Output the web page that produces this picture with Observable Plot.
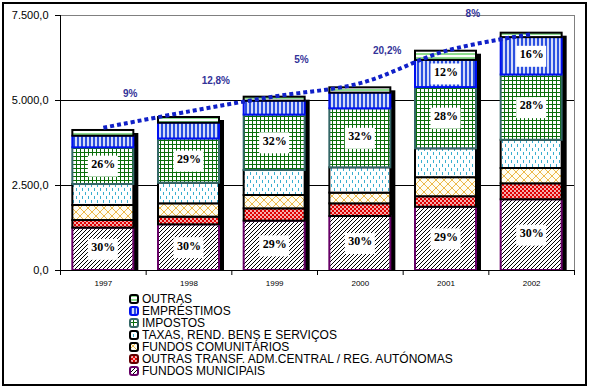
<!DOCTYPE html>
<html><head><meta charset="utf-8">
<script src="https://cdn.jsdelivr.net/npm/d3@7"></script>
<script src="https://cdn.jsdelivr.net/npm/@observablehq/plot@0.6"></script>
<style>
html,body{margin:0;padding:0;background:#fff;}
#wrap{position:relative;width:590px;height:388px;overflow:hidden;background:#fff;}
#frame{position:absolute;left:2px;top:2px;width:585px;height:384px;border:2px solid #000;box-sizing:border-box;pointer-events:none;}
#chart{position:absolute;left:0;top:0;}
.row{position:absolute;left:129px;height:12px;white-space:nowrap;}
.row svg{position:absolute;left:0;top:1px;}
.row span{position:absolute;left:13px;top:0;font-family:"Liberation Sans",Arial,sans-serif;font-size:12.5px;line-height:12px;transform:scaleX(0.96);transform-origin:0 0;color:#000;}
</style>
</head><body>
<svg width="0" height="0" style="position:absolute">
<defs>
  <pattern id="pMun" width="4" height="4" patternUnits="userSpaceOnUse">
    <rect width="4" height="4" fill="#fff"/>
    <path d="M-1,1 L1,-1 M0,4 L4,0 M3,5 L5,3" stroke="#000" stroke-width="1"/>
  </pattern>
  <pattern id="pOtr" width="4" height="4" patternUnits="userSpaceOnUse">
    <rect width="4" height="4" fill="#E00000"/>
    <circle cx="1" cy="1" r="0.9" fill="#fff"/>
    <circle cx="3" cy="3" r="0.9" fill="#fff"/>
  </pattern>
  <pattern id="pFc" width="8" height="8" patternUnits="userSpaceOnUse">
    <rect width="8" height="8" fill="#FFFDF2"/>
    <path d="M0,0 L8,8 M8,0 L0,8" stroke="#EDB94A" stroke-width="1"/>
  </pattern>
  <pattern id="pTax" width="6" height="8" patternUnits="userSpaceOnUse">
    <rect width="6" height="8" fill="#fff"/>
    <rect x="1" y="0" width="1" height="3" fill="#3AAFD0"/>
    <rect x="4" y="4" width="1" height="3" fill="#3AAFD0"/>
  </pattern>
  <pattern id="pImp" width="4" height="4" patternUnits="userSpaceOnUse">
    <rect width="4" height="4" fill="#fff"/>
    <rect x="0" y="0" width="4" height="1" fill="#0A6E0A"/>
    <rect x="0" y="0" width="1" height="4" fill="#0A6E0A"/>
  </pattern>
  <pattern id="pEmp" width="4" height="4" patternUnits="userSpaceOnUse">
    <rect width="4" height="4" fill="#fff"/>
    <rect x="0.8" y="0" width="2.4" height="4" fill="#2A4FE0"/>
  </pattern>
  <pattern id="pOut" width="4" height="4" patternUnits="userSpaceOnUse">
    <rect width="4" height="4" fill="#fff"/>
    <rect x="0" y="1" width="4" height="2" fill="#8EDC8E"/>
  </pattern>
</defs>
</svg>
<div id="wrap">
  <div id="chart"></div>
  <div id="legend"></div>
  <div id="frame"></div>
</div>
<script>
// ---- data ----
const years = [1997, 1998, 1999, 2000, 2001, 2002];
const fundosMunicipais   = [1245, 1343, 1451, 1588, 1860, 2080];
const outrasTransf       = [225, 226, 363, 373, 310, 470];
const fundosComunitarios = [442, 392, 392, 314, 560, 450];
const taxas              = [617, 607, 735, 745, 850, 830];
const impostos           = [1079, 1300, 1630, 1735, 1800, 1920];
const emprestimos        = [342, 465, 409, 461, 800, 1100];
const outras             = [168, 167, 118, 157, 270, 130];
const tendencia          = [4200, 4680, 5120, 5510, 6460, 6950];
const crescimento        = ["9%", "12,8%", "5%", "20,2%", "8%"];
const rotMunicipais      = ["30%", "30%", "29%", "30%", "29%", "30%"];
const rotImpostos        = ["26%", "29%", "32%", "32%", "28%", "28%"];
const rotEmprestimos     = [null, null, null, null, "12%", "16%"];
const yTicks             = [0, 2500, 5000, 7500];
const legendNames = ["OUTRAS", "EMPRÉSTIMOS", "IMPOSTOS", "TAXAS, REND. BENS E SERVIÇOS",
  "FUNDOS COMUNITÁRIOS", "OUTRAS TRANSF. ADM.CENTRAL / REG. AUTÓNOMAS", "FUNDOS MUNICIPAIS"];

// ---- styles ----
const series = [
  {key: "FUNDOS MUNICIPAIS", values: fundosMunicipais, fill: "url(#pMun)", stroke: "#660066", labels: rotMunicipais},
  {key: "OUTRAS TRANSF", values: outrasTransf, fill: "url(#pOtr)", stroke: "#000"},
  {key: "FUNDOS COMUNITÁRIOS", values: fundosComunitarios, fill: "url(#pFc)", stroke: "#000"},
  {key: "TAXAS", values: taxas, fill: "url(#pTax)", stroke: "#000"},
  {key: "IMPOSTOS", values: impostos, fill: "url(#pImp)", stroke: "#336666", labels: rotImpostos},
  {key: "EMPRÉSTIMOS", values: emprestimos, fill: "url(#pEmp)", stroke: "#0010F0", labels: rotEmprestimos},
  {key: "OUTRAS", values: outras, fill: "url(#pOut)", stroke: "#000"}
];
const legendFills = ["url(#pOut)", "url(#pEmp)", "url(#pImp)", "url(#pTax)", "url(#pFc)", "url(#pOtr)", "url(#pMun)"];
const legendStrokes = ["#000", "#0010F0", "#336666", "#000", "#000", "#600000", "#660066"];

// ---- stacking ----
const half = 0.356;
const segs = [];
const labelRows = [];
const totals = years.map((yr, i) => {
  let base = 0;
  series.forEach(s => {
    const v = s.values[i];
    segs.push({year: yr, key: s.key, y1: base, y2: base + v});
    if (s.labels && s.labels[i]) labelRows.push({year: yr, mid: base + v / 2, text: s.labels[i]});
    base += v;
  });
  return base;
});
const growthRows = crescimento.map((t, i) => ({x: years[i] + 0.5, y: totals[i], text: t}));
const lineRows = years.map((yr, i) => ({x: yr, y: tendencia[i]}));
const boundaries = d3.range(years.length + 1).map(i => years[0] - 0.5 + i);

const fmt = d => d3.format(",.1f")(d).replace(/,/g, "#").replace(".", ",").replace(/#/g, ".");

const segMarks = series.map(s => Plot.rect(segs.filter(d => d.key === s.key), {
  x1: d => d.year - half, x2: d => d.year + half, y1: "y1", y2: "y2",
  fill: s.fill, stroke: s.stroke, strokeWidth: 2
}));

const chart = Plot.plot({
  width: 590, height: 290,
  marginLeft: 60, marginRight: 16, marginTop: 15, marginBottom: 20,
  x: {domain: [years[0] - 0.5, years[years.length - 1] + 0.5]},
  y: {domain: [0, 7500]},
  style: {background: "transparent", fontFamily: "'Liberation Sans', Arial, sans-serif", color: "#000"},
  marks: [
    Plot.ruleY([2500, 5000], {stroke: "#000"}),
    Plot.ruleY([7500], {stroke: "#808080"}),
    Plot.ruleX([years[years.length - 1] + 0.5], {stroke: "#808080"}),
    Plot.rect(years, {x1: d => d - half, x2: d => d + half, y1: 0, y2: (d, i) => totals[i], dx: 5, insetTop: 3, fill: "#000"}),
    ...segMarks,
    Plot.ruleX([years[0] - 0.5], {stroke: "#000"}),
    Plot.ruleY([0], {stroke: "#000"}),
    Plot.axisY({ticks: yTicks, tickSize: 5, tickPadding: 7, tickFormat: fmt, fontSize: 11, label: null}),
    Plot.axisX({ticks: boundaries, tickSize: 5, tickFormat: () => "", label: null}),
    Plot.axisX({ticks: years, tickSize: 0, tickPadding: 10, tickFormat: d => String(d), fontSize: 8, label: null}),
    Plot.rect(labelRows, {x1: "year", x2: "year", y1: "mid", y2: "mid", dy: -2,
      insetLeft: -15, insetRight: -15, insetTop: -8, insetBottom: -13, fill: "#fff"}),
    Plot.text(labelRows, {x: "year", y: "mid", dy: -2, text: "text", fontFamily: "'Liberation Serif', 'Times New Roman', serif",
      fontWeight: "bold", fontSize: 12, fill: "#000"}),
    Plot.line(lineRows, {x: "x", y: "y", curve: "catmull-rom", stroke: "#1020C8", strokeWidth: 4,
      strokeDasharray: "4 3", strokeLinecap: "butt", className: "trend"}),
    Plot.text(growthRows, {x: "x", y: "y", dx: -16, dy: -37, text: "text", fill: "#333399",
      fontWeight: "bold", fontSize: 10, letterSpacing: 2})
  ]
});
document.getElementById("chart").appendChild(chart);
// make sure the dotted style reaches the path itself
d3.select(chart).selectAll("g[aria-label='line'] path").attr("stroke-dasharray", "4 3").attr("stroke-linecap", "butt");

// ---- legend ----
const leg = document.getElementById("legend");
legendNames.forEach((name, i) => {
  const row = document.createElement("div");
  row.className = "row";
  row.style.top = (293 + 12 * i) + "px";
  row.innerHTML = `<svg width="10" height="10"><rect x="1" y="1" width="8" height="8" rx="2" fill="${legendFills[i]}" stroke="${legendStrokes[i]}" stroke-width="2"/></svg><span>${name}</span>`;
  leg.appendChild(row);
});
</script>
</body></html>
